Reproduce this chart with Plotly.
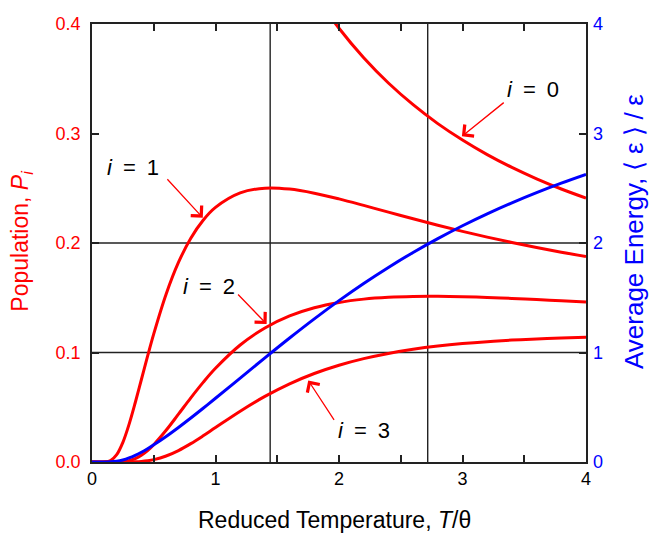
import plotly.graph_objects as go

# Reduced temperature T/theta
T = [0, 0.1, 0.15, 0.2, 0.25, 0.3, 0.35, 0.4, 0.45, 0.5, 0.6, 0.7, 0.8, 0.9, 1.0,
     1.2, 1.4, 1.6, 1.8, 2.0, 2.2, 2.4, 2.6, 2.8, 3.0, 3.2, 3.4, 3.6, 3.8, 4.0]

# Populations
P0 = [1.0, 1.0, 0.9987, 0.9933, 0.9817, 0.9643, 0.9426, 0.9179, 0.8916, 0.8647, 0.8111, 0.7604, 0.7135, 0.6708, 0.6321,
      0.5655, 0.5109, 0.4656, 0.4279, 0.3961, 0.3692, 0.3461, 0.3263, 0.3090, 0.2940, 0.2807, 0.2690, 0.2586, 0.2493, 0.2410]
P1 = [0.0, 0.00005, 0.00127, 0.00669, 0.01798, 0.0344, 0.05413, 0.07534, 0.09662, 0.11702, 0.15321, 0.18222, 0.20442, 0.22082, 0.23254,
      0.24578, 0.25009, 0.24924, 0.24551, 0.24027, 0.23432, 0.22818, 0.22209, 0.21621, 0.21063, 0.20538, 0.20047, 0.19589, 0.19163, 0.18768]
P2 = [0.0, 0.0, 0.000002, 0.000045, 0.00033, 0.00123, 0.00311, 0.00618, 0.01047, 0.01584, 0.02894, 0.04367, 0.05857, 0.07269, 0.08555,
      0.10682, 0.12243, 0.13341, 0.14086, 0.14573, 0.14874, 0.15043, 0.15118, 0.15128, 0.15092, 0.15026, 0.14939, 0.14838, 0.14729, 0.14616]
P3 = [0.0, 0.0, 0.0, 0.0, 0.000006, 0.000044, 0.00018, 0.00051, 0.00113, 0.00214, 0.00547, 0.01047, 0.01678, 0.02393, 0.03147,
      0.04642, 0.05993, 0.07141, 0.08082, 0.08839, 0.09442, 0.09917, 0.10291, 0.10584, 0.10814, 0.10993, 0.11132, 0.11239, 0.11321, 0.11383]
# Average energy <eps>/eps (right axis)
E = [0.0, 0.00005, 0.00128, 0.00678, 0.01866, 0.03699, 0.06093, 0.08942, 0.12153, 0.15652, 0.23287, 0.31518, 0.40154, 0.49074, 0.58198,
     0.76626, 0.95112, 1.1324, 1.30719, 1.47365, 1.63076, 1.77718, 1.91379, 2.04044, 2.15781, 2.26633, 2.36691, 2.46001, 2.5465, 2.6266]

x_tickvals = [0, 0.5, 1, 1.5, 2, 2.5, 3, 3.5, 4]
x_ticktext = ["0", "", "1", "", "2", "", "3", "", "4"]
y_tickvals = [0.0, 0.1, 0.2, 0.3, 0.4]
y_ticktext = ["0.0", "0.1", "0.2", "0.3", "0.4"]
y2_tickvals = [0, 1, 2, 3, 4]
y2_ticktext = ["0", "1", "2", "3", "4"]

ref_T = [1.4427, 2.7183]   # T where P1 is max and where <eps>/eps = 2
ref_P = [0.1, 0.2]

labels = ["<i>i</i>\u2002=\u20020", "<i>i</i>\u2002=\u20021", "<i>i</i>\u2002=\u20022", "<i>i</i>\u2002=\u20023"]
label_pos = [(3.573, 0.340), (0.33, 0.269), (0.950, 0.160), (2.203, 0.029)]
arrow_tip = [(2.995, 0.2974), (0.897, 0.2231), (1.414, 0.1260), (1.751, 0.0745)]
arrow_tail = [(3.346, 0.3293), (0.599, 0.2596), (1.171, 0.1543), (1.968, 0.0371)]

RED = "#ff0000"
BLUE = "#0000ff"
FONT = "Liberation Sans, Arial, Helvetica, sans-serif"

fig = go.Figure()
for ys in [P0, P1, P2, P3]:
    fig.add_trace(go.Scatter(x=T, y=ys, mode="lines", line=dict(color=RED, width=3, shape="spline"),
                             showlegend=False, hoverinfo="skip"))
fig.add_trace(go.Scatter(x=T, y=E, yaxis="y2", mode="lines", line=dict(color=BLUE, width=3, shape="spline"),
                         showlegend=False, hoverinfo="skip"))

for t in ref_T:
    fig.add_shape(type="line", xref="x", yref="paper", x0=t, x1=t, y0=0, y1=1,
                  line=dict(color="#222222", width=1.4), layer="below")
for p in ref_P:
    fig.add_shape(type="line", xref="paper", yref="y", x0=0, x1=1, y0=p, y1=p,
                  line=dict(color="#222222", width=1.4), layer="below")

annotations = []
for txt, (lx, ly) in zip(labels, label_pos):
    annotations.append(dict(x=lx, y=ly, xref="x", yref="y", text=txt, showarrow=False,
                            font=dict(family=FONT, size=22, color="black")))
for (tx, ty), (ax, ay) in zip(arrow_tip, arrow_tail):
    annotations.append(dict(x=tx, y=ty, xref="x", yref="y", ax=ax, ay=ay, axref="x", ayref="y",
                            text="", showarrow=True, arrowhead=4, arrowsize=2.2, arrowwidth=1.3,
                            arrowcolor=RED))
# axis titles
annotations.append(dict(x=0.5, y=0, xref="paper", yref="paper", yshift=-58, xshift=-5, yanchor="middle",
                        text="Reduced Temperature, <i>T</i>/\u03b8", showarrow=False,
                        font=dict(family=FONT, size=23, color="black")))
annotations.append(dict(x=0, y=0.503, xref="paper", yref="paper", xshift=-70, xanchor="center",
                        yanchor="middle", textangle=-90,
                        text="Population, <i>P</i><sub><i>i</i></sub>", showarrow=False,
                        font=dict(family=FONT, size=23, color=RED)))
annotations.append(dict(x=1, y=0.525, xref="paper", yref="paper", xshift=48, xanchor="center",
                        yanchor="middle", textangle=-90,
                        text="Average Energy, \u27e8\u2005\u03b5\u2005\u27e9\u2005/\u2005\u03b5", showarrow=False,
                        font=dict(family=FONT, size=26, color=BLUE)))

fig.update_layout(
    width=654, height=534,
    margin=dict(l=92, r=68, t=24, b=72),
    paper_bgcolor="white", plot_bgcolor="white",
    font=dict(family=FONT, size=18, color="black"),
    xaxis=dict(range=[0, 4], tickvals=x_tickvals, ticktext=x_ticktext, ticks="inside", ticklen=7,
               tickwidth=1.5, tickcolor="#222222", showline=True, linecolor="#222222", linewidth=1.5,
               mirror="ticks", showgrid=False, zeroline=False, tickfont=dict(size=18, color="black")),
    yaxis=dict(range=[0, 0.4], tickvals=y_tickvals, ticktext=y_ticktext, ticks="inside", ticklen=7,
               tickwidth=1.5, tickcolor="#222222", showline=True, linecolor="#222222", linewidth=1.5,
               mirror=True, showgrid=False, zeroline=False, tickfont=dict(size=18, color=RED),
               ticklabelstandoff=6),
    yaxis2=dict(range=[0, 4], tickvals=y2_tickvals, ticktext=y2_ticktext, overlaying="y", side="right",
                ticks="inside", ticklen=7, tickwidth=1.5, tickcolor="#222222", showline=False,
                showgrid=False, zeroline=False, tickfont=dict(size=18, color=BLUE),
                ticklabelstandoff=6),
    annotations=annotations,
)

fig.write_html("out.html")
